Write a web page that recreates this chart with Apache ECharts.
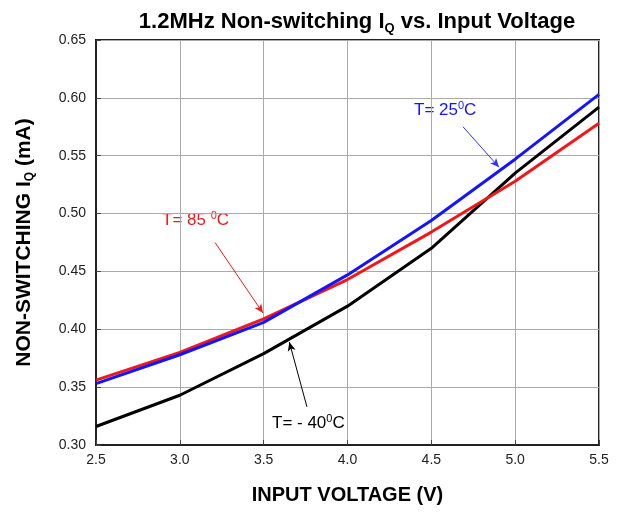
<!DOCTYPE html>
<html><head><meta charset="utf-8">
<script src="https://cdn.jsdelivr.net/npm/echarts@6/dist/echarts.min.js"></script>
<style>html,body{margin:0;padding:0;background:#fff}#c{width:626px;height:512px}</style>
</head><body><div id="c"></div>
<script>
const voltage = [2.5, 3.0, 3.5, 4.0, 4.5, 5.0, 5.5];
const iqMinus40 = [0.316, 0.343, 0.379, 0.420, 0.470, 0.535, 0.592];
const iq25 = [0.353, 0.378, 0.406, 0.447, 0.494, 0.547, 0.603];
const iq85 = [0.356, 0.380, 0.409, 0.443, 0.484, 0.528, 0.578];
const xTicks = [2.5, 3.0, 3.5, 4.0, 4.5, 5.0, 5.5];

const chart = echarts.init(document.getElementById('c'));
const F = 'Liberation Sans, Arial, sans-serif';
function pairs(ys){return voltage.map((v,i)=>[v,ys[i]]);}
function arrow(color, from, to){
  return {silent:true, symbol:['none','arrow'], symbolSize:[6,9],
    lineStyle:{color:color,width:1,type:'solid'}, label:{show:false},
    data:[[{coord:from},{coord:to}]]};
}
chart.setOption({
  animation:false,
  title:{
    text:'{a|1.2MHz Non-switching I}{s|Q}{a| vs. Input Voltage}',
    left:352, top:3, textAlign:'center',
    textStyle:{rich:{
      a:{fontFamily:F,fontSize:22,fontWeight:'bold',color:'#000'},
      s:{fontFamily:F,fontSize:13,fontWeight:'bold',color:'#000',padding:[14,0,0,0]}
    }}
  },
  grid:{left:96, right:27, top:40, bottom:67, show:true, borderColor:'#222', borderWidth:2, containLabel:false},
  xAxis:{
    type:'value', min:2.5, max:5.5, interval:0.5,
    name:'INPUT VOLTAGE (V)', nameLocation:'middle', nameGap:40,
    nameTextStyle:{fontFamily:F,fontSize:20,fontWeight:'bold',color:'#000'},
    axisLine:{lineStyle:{color:'#222',width:2}},
    axisTick:{inside:true,length:5,lineStyle:{color:'#444'}},
    axisLabel:{fontFamily:F,fontSize:14,color:'#222',margin:8,
      formatter:v=>v.toFixed(1)},
    splitLine:{lineStyle:{color:'#aaa',width:1}}
  },
  yAxis:{
    type:'value', min:0.30, max:0.65, interval:0.05,
    name:'{a|NON-SWITCHING I}{s|Q}{a| (mA)}', nameLocation:'middle', nameGap:60, nameRotate:90,
    nameTextStyle:{rich:{
      a:{fontFamily:F,fontSize:21,fontWeight:'bold',color:'#000'},
      s:{fontFamily:F,fontSize:12,fontWeight:'bold',color:'#000',padding:[12,0,0,0]}
    }},
    axisLine:{show:true,lineStyle:{color:'#222',width:2}},
    axisTick:{show:true,inside:true,length:5,lineStyle:{color:'#444'}},
    axisLabel:{fontFamily:F,fontSize:14,color:'#222',margin:10,
      formatter:v=>v.toFixed(2)},
    splitLine:{lineStyle:{color:'#aaa',width:1}}
  },
  series:[
    {name:'T=-40C', type:'line', data:pairs(iqMinus40), showSymbol:false, smooth:false,
      lineStyle:{color:'#000',width:3}, z:3,
      markLine:arrow('#000',[3.758,0.333],[3.653,0.389])},
    {name:'T=85C', type:'line', data:pairs(iq85), showSymbol:false,
      lineStyle:{color:'#f01818',width:3}, z:4,
      markLine:arrow('#f01818',[3.21,0.475],[3.496,0.414])},
    {name:'T=25C', type:'line', data:pairs(iq25), showSymbol:false,
      lineStyle:{color:'#1414ff',width:3}, z:5,
      markLine:arrow('#3030ff',[4.689,0.575],[4.904,0.540])}
  ],
  graphic:[
    {type:'text', left:414, top:100, style:{text:'{a|T= 25}{u|0}{a|C}',
      rich:{a:{fontFamily:F,fontSize:17,fill:'#1414ff'},u:{fontFamily:F,fontSize:11,fill:'#1414ff',padding:[0,0,9,0]}}}},
    {type:'text', left:162, top:210, style:{text:'{a|T= 85 }{u|0}{a|C}',
      rich:{a:{fontFamily:F,fontSize:17,fill:'#f01818'},u:{fontFamily:F,fontSize:11,fill:'#f01818',padding:[0,0,9,0]}}}},
    {type:'text', left:272, top:413, style:{text:'{a|T= - 40}{u|0}{a|C}',
      rich:{a:{fontFamily:F,fontSize:17,fill:'#000'},u:{fontFamily:F,fontSize:11,fill:'#000',padding:[0,0,9,0]}}}}
  ]
});
</script></body></html>
